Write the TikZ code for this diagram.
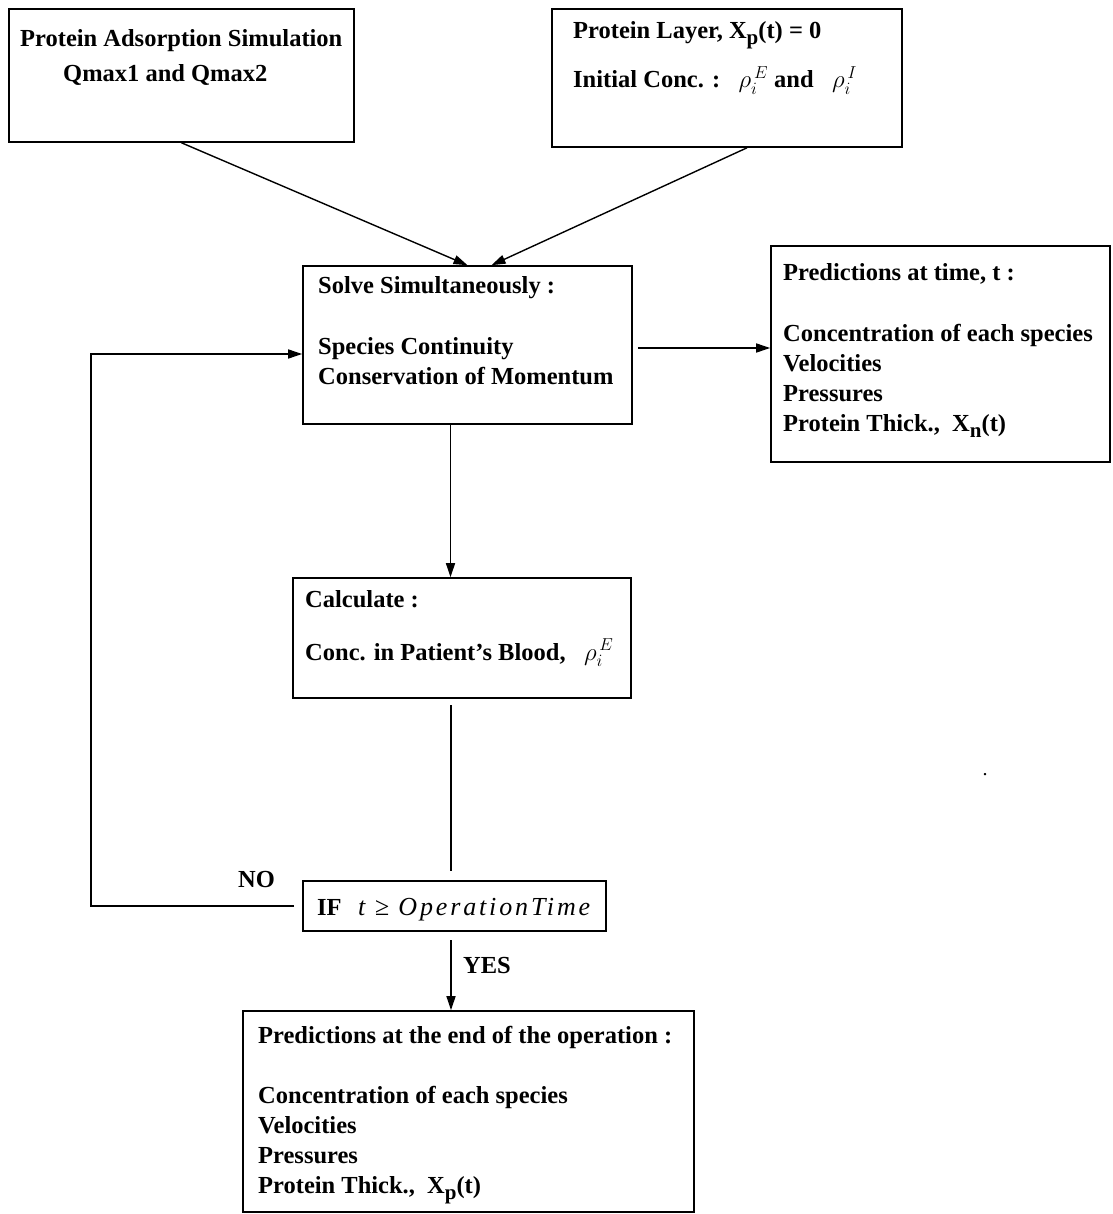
\documentclass[tikz,border=0pt]{standalone}
\usepackage{fontspec}
\setmainfont{Liberation Serif}
\usetikzlibrary{arrows.meta,fit}
\newcommand\lowsub[1]{\raisebox{-6pt}{\fontsize{21}{21}\selectfont #1}}
\begin{document}
\begin{tikzpicture}[x=1pt,y=-1pt,
  box/.style={draw, line width=1.6pt, inner sep=0pt, rectangle},
  txt/.style={anchor=base west, inner sep=0pt, font=\fontsize{24.5}{30}\selectfont\bfseries},
  arr/.style={line width=1.4pt, -{Triangle[length=14pt,width=9pt]}},
  ln/.style={line width=1.4pt}]
\useasboundingbox (0,0) rectangle (1112,1214);

% boxes
\node[box, fit={(9,9) (354,142)}] (A) {};
\node[box, fit={(552,9) (902,147)}] (B) {};
\node[box, fit={(303,266) (632,424)}] (S) {};
\node[box, fit={(771,246) (1110,462)}] (P) {};
\node[box, fit={(293,578) (631,698)}] (C) {};
\node[box, fit={(303,881) (606,931)}] (I) {};
\node[box, fit={(243,1011) (694,1212)}] (E) {};

% texts
\node[txt] (a1) at (20,47) {Protein Adsorption Simulation};
\node[txt] (a2) at (63,82) {Qmax1 and Qmax2};
\node[txt] (b1) at (573,39) {Protein Layer, X\lowsub{p}(t) = 0};
\node[txt] (b2) at (573,88) {Initial Conc. :\ \ \ $\rho_i^{\,E}$\ and\ \ \ $\rho_i^{\,I}$};
\node[txt] (s1) at (318,294) {Solve Simultaneously :};
\node[txt] (s2) at (318,354) {Species Continuity};
\node[txt] (s3) at (318,384) {Conservation of Momentum};
\node[txt] (p1) at (783,280) {Predictions at time, t :};
\node[txt] (p2) at (783,341) {Concentration of each species};
\node[txt] (p3) at (783,371) {Velocities};
\node[txt] (p4) at (783,401) {Pressures};
\node[txt] (p5) at (783,431) {Protein Thick.,\ \ X\lowsub{n}(t)};
\node[txt] (c1t) at (305,607) {Calculate :};
\node[txt] (c2t) at (305,660) {Conc. in Patient's Blood,\ \ \ $\rho_i^{\,E}$};
\node[txt] (i1) at (317,915) {IF};
\node[anchor=base west, inner sep=0pt, font=\fontsize{26}{30}\selectfont\mdseries\itshape\addfontfeature{LetterSpace=11}] (i2) at (358,915) {t ≥ OperationTime};
\node[txt] (e1) at (258,1043) {Predictions at the end of the operation :};
\node[txt] (e2) at (258,1103) {Concentration of each species};
\node[txt] (e3) at (258,1133) {Velocities};
\node[txt] (e4) at (258,1163) {Pressures};
\node[txt] (e5) at (258,1193) {Protein Thick.,\ \ X\lowsub{p}(t)};
\node[txt] (no) at (238,887) {NO};
\node[txt] (yes) at (463,973) {YES};
\node[anchor=base, inner sep=0pt, font=\fontsize{20}{20}\selectfont] (dot) at (985,775) {.};

% connectors
\draw[arr] (A.south) -- (S.north);
\draw[arr] ([xshift=20pt]B.south) -- ([xshift=24pt]S.north);
\draw[arr] ([xshift=5pt,yshift=-3pt]S.east) coordinate (sp) -- (sp -| P.west);
\draw[arr] ([xshift=-17pt]S.south) -- ([xshift=-17pt]S.south |- C.north);
\coordinate (cl1) at (451,705);
\coordinate (cl2) at (451,871);
\draw[ln] (cl1) -- (cl2);
\coordinate (lp) at (91,354);
\draw[arr] ([xshift=-8pt]I.west) -| (lp) -- (lp -| S.west);
\coordinate (y1) at (451,940);
\draw[arr] (y1) -- (y1 |- E.north);
\end{tikzpicture}
\end{document}
